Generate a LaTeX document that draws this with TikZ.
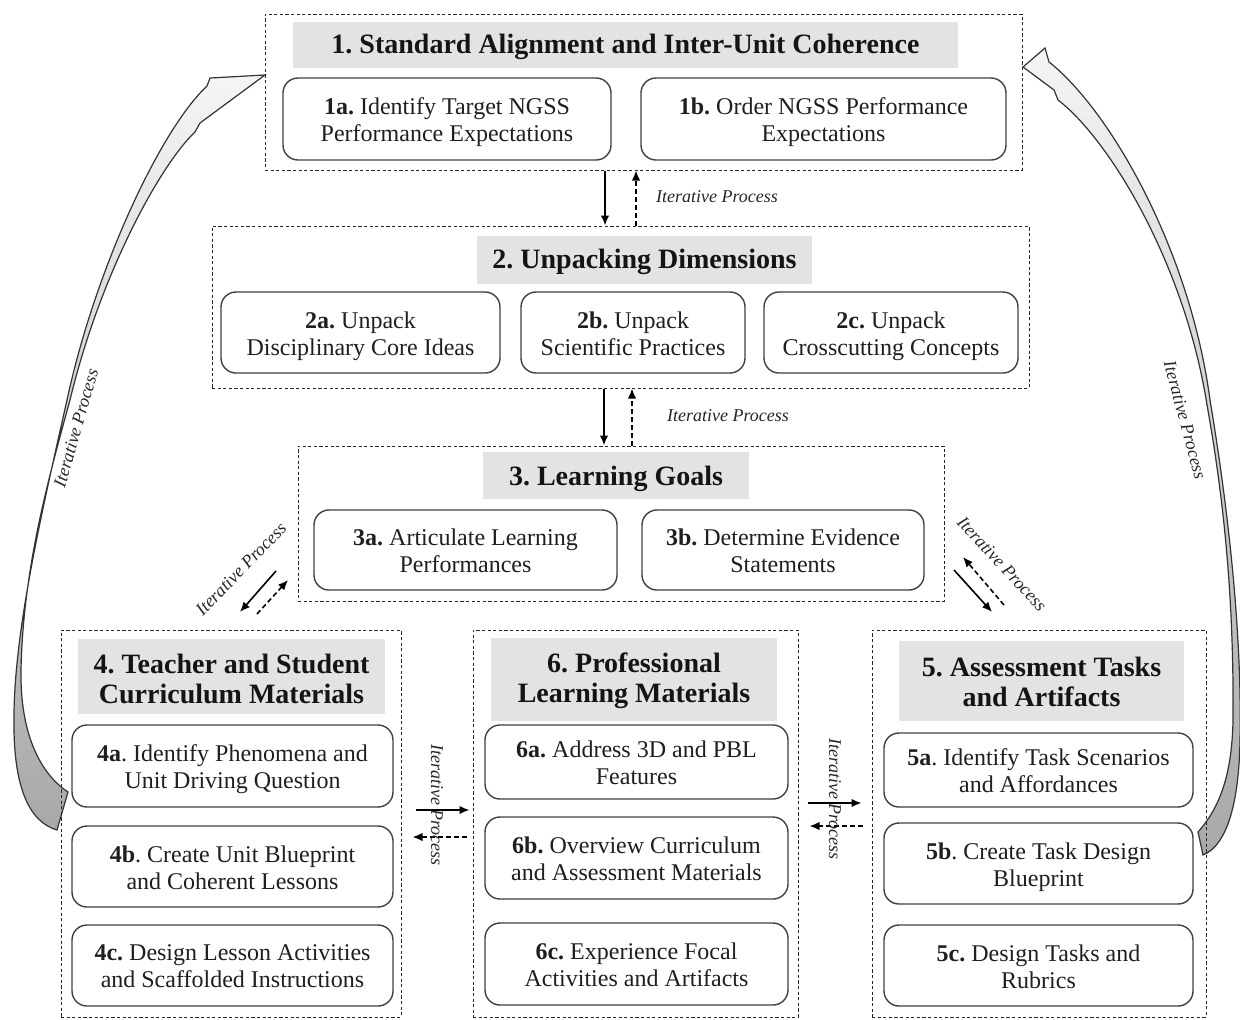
\documentclass[tikz,border=0pt]{standalone}
\usepackage{fontspec}
\setmainfont{Liberation Serif}
\usetikzlibrary{arrows.meta,calc}
\frenchspacing
% a rounded step box with its two-line caption
\newcommand\mkstep[6]{%
  \node[stepbox, minimum width=#4, minimum height=#5] (#1) at (#2,#3) {};
  \node[steptext] (#1-t) at ([yshift=-2.5pt]#1.center) {#6};}
% a grey heading bar; #6 lowers the heading text
\newcommand\mkhead[7]{%
  \node[headbar, minimum width=#4, minimum height=#5] (#1) at (#2,#3) {};
  \node[headtext] (#1-t) at ([yshift=-#6]#1.center) {#7};}
\begin{document}
\begin{tikzpicture}[x=0.5pt,y=-0.5pt,
  group/.style={draw=black!85, line width=0.5pt, dash pattern=on 1.6pt off 1.2pt, inner sep=0pt},
  headbar/.style={fill=black!11, inner sep=0pt},
  headtext/.style={inner sep=0pt, align=center, text=black!92,
    font=\fontsize{14}{15}\selectfont\bfseries,
    execute at begin node=\strut, execute at end node=\strut},
  stepbox/.style={draw=black!75, line width=0.7pt, rounded corners=7.5pt, fill=white, inner sep=0pt},
  steptext/.style={inner sep=0pt, align=center, text=black!88, font=\fontsize{12}{13.5}\selectfont,
    execute at begin node=\strut, execute at end node=\strut},
  iter/.style={font=\fontsize{9}{10}\selectfont\itshape, text=black!85, inner sep=0pt},
  fwd/.style={line width=0.8pt, -{Latex[length=5pt,width=4.2pt]}},
  back/.style={line width=0.8pt, dash pattern=on 2.5pt off 1.5pt, -{Latex[length=5pt,width=4.2pt]}},
  bigarrow/.style={draw=black!80, line width=0.6pt, top color=black!4, bottom color=black!34}
]
\path[use as bounding box] (0,0) rectangle (1240,1019);

% ---- large feedback arrows (drawn first, behind the boxes)
\draw[bigarrow] (265,75) -- (210,78) -- (207,86)
  .. controls (160,130) and (95,270) .. (67,400)
  .. controls (40,520) and (12,640) .. (14,730)
  .. controls (15,790) and (30,822) .. (57,830)
  -- (68,792)
  .. controls (38,772) and (20,730) .. (21,670)
  .. controls (23,570) and (48,480) .. (70,400)
  .. controls (100,275) and (160,165) .. (195,132)
  -- (200,123) -- cycle;
\draw[bigarrow] (1023,67) -- (1045,48) -- (1049,62)
  .. controls (1110,110) and (1190,250) .. (1210,400)
  .. controls (1230,520) and (1242,640) .. (1240,740)
  .. controls (1239,800) and (1228,845) .. (1203,855)
  -- (1198,832)
  .. controls (1222,805) and (1232,770) .. (1233,720)
  .. controls (1234,600) and (1224,500) .. (1207,405)
  .. controls (1185,265) and (1110,140) .. (1058,100)
  -- (1054,90) -- cycle;
\node[iter, rotate=74] (lblL) at (76,428) {Iterative Process};
\node[iter, rotate=-75] (lblR) at (1185,420) {Iterative Process};

% ---- 1. Standard alignment
\node[group, minimum width=378.5pt, minimum height=78pt] (g1) at (643.5,92) {};
\mkhead{t1}{625.5}{45}{332.5pt}{23pt}{1pt}{1. Standard Alignment and Inter-Unit Coherence}
\mkstep{s1a}{447}{119}{164pt}{41pt}{\textbf{1a.} Identify Target NGSS\\Performance Expectations}
\mkstep{s1b}{823.5}{119}{182.5pt}{41pt}{\textbf{1b.} Order NGSS Performance\\Expectations}

% ---- 2. Unpacking dimensions
\node[group, minimum width=408.5pt, minimum height=81pt] (g2) at (620.5,307) {};
\mkhead{t2}{644.5}{260}{167.5pt}{24pt}{1pt}{2. Unpacking Dimensions}
\mkstep{s2a}{360.5}{332.5}{139.5pt}{40.5pt}{\textbf{2a.} Unpack\\Disciplinary Core Ideas}
\mkstep{s2b}{633}{332.5}{112pt}{40.5pt}{\textbf{2b.} Unpack\\Scientific Practices}
\mkstep{s2c}{891}{332.5}{127pt}{40.5pt}{\textbf{2c.} Unpack\\Crosscutting Concepts}

% ---- 3. Learning goals
\node[group, minimum width=323pt, minimum height=77.5pt] (g3) at (621,523.5) {};
\mkhead{t3}{616}{475.5}{133pt}{23.5pt}{2pt}{3. Learning Goals}
\mkstep{s3a}{465.5}{550}{151.5pt}{40pt}{\textbf{3a.} Articulate Learning\\Performances}
\mkstep{s3b}{783}{550}{141pt}{40pt}{\textbf{3b.} Determine Evidence\\Statements}

% ---- 4. Curriculum materials
\node[group, minimum width=170pt, minimum height=193.5pt] (g4) at (231,823.5) {};
\mkhead{t4}{231.5}{676}{153.5pt}{37.5pt}{3.5pt}{4. Teacher and Student\\Curriculum Materials}
\mkstep{s4a}{232.5}{766}{160.5pt}{41pt}{\textbf{4a}. Identify Phenomena and\\Unit Driving Question}
\mkstep{s4b}{232.5}{866.5}{160.5pt}{40.5pt}{\textbf{4b}. Create Unit Blueprint\\and Coherent Lessons}
\mkstep{s4c}{232.5}{965.5}{160.5pt}{40.5pt}{\textbf{4c.} Design Lesson Activities\\and Scaffolded Instructions}

% ---- 6. Professional learning materials
\node[group, minimum width=162.5pt, minimum height=193.5pt] (g6) at (635.5,823.5) {};
\mkhead{t6}{634}{679.5}{143pt}{41.5pt}{1.2pt}{6. Professional\\Learning Materials}
\mkstep{s6a}{636.5}{762}{151.5pt}{37pt}{\textbf{6a.} Address 3D and PBL\\Features}
\mkstep{s6b}{636.5}{858}{151.5pt}{41pt}{\textbf{6b.} Overview Curriculum\\and Assessment Materials}
\mkstep{s6c}{636.5}{964}{151.5pt}{41pt}{\textbf{6c.} Experience Focal\\Activities and Artifacts}

% ---- 5. Assessment tasks
\node[group, minimum width=167pt, minimum height=193.5pt] (g5) at (1039,823.5) {};
\mkhead{t5}{1041.5}{681}{142.5pt}{40pt}{2.7pt}{5. Assessment Tasks\\and Artifacts}
\mkstep{s5a}{1038.5}{770}{154.5pt}{37pt}{\textbf{5a}. Identify Task Scenarios\\and Affordances}
\mkstep{s5b}{1038.5}{863.5}{154.5pt}{40.5pt}{\textbf{5b}. Create Task Design\\Blueprint}
\mkstep{s5c}{1038.5}{965.5}{154.5pt}{40.5pt}{\textbf{5c.} Design Tasks and\\Rubrics}

% ---- iterative links between the stages
\coordinate (v1) at (605,0);
\coordinate (v2) at (636,0);
\draw[fwd]  (v1 |- g1.south) -- (v1 |- g2.north);
\draw[back] (v2 |- g2.north) -- (v2 |- g1.south);
\node[iter] (l12) at (717,197) {Iterative Process};

\coordinate (v3) at (604,0);
\coordinate (v4) at (632,0);
\draw[fwd]  (v3 |- g2.south) -- (v3 |- g3.north);
\draw[back] (v4 |- g3.north) -- (v4 |- g2.south);
\node[iter] (l23) at (728,416) {Iterative Process};

% 3 <-> 4
\coordinate (a34s) at (276,571);
\coordinate (a34e) at (240,612);
\coordinate (b34s) at (257,614);
\coordinate (b34e) at (288,580);
\draw[fwd]  (a34s) -- (a34e);
\draw[back] (b34s) -- (b34e);
\node[iter, rotate=46] (l34) at (241,569) {Iterative Process};

% 3 <-> 5
\coordinate (a35s) at (954,570);
\coordinate (a35e) at (992,612);
\coordinate (b35s) at (1004,605);
\coordinate (b35e) at (963,557);
\draw[fwd]  (a35s) -- (a35e);
\draw[back] (b35s) -- (b35e);
\node[iter, rotate=-47] (l35) at (1002,564) {Iterative Process};

% 4 <-> 6
\coordinate (h1) at (0,810);
\coordinate (h2) at (0,837);
\draw[fwd, shorten <=7pt, shorten >=1.5pt]  (g4.east |- h1) -- (g6.west |- h1);
\draw[back, shorten <=3pt, shorten >=5.5pt] (g6.west |- h2) -- (g4.east |- h2);
\node[iter, rotate=-90] (l46) at (437,805) {Iterative Process};

% 6 <-> 5
\coordinate (h3) at (0,803);
\coordinate (h4) at (0,826);
\draw[fwd, shorten <=4.5pt, shorten >=5pt]  (g6.east |- h3) -- (g5.west |- h3);
\draw[back, shorten <=4.5pt, shorten >=5.5pt] (g5.west |- h4) -- (g6.east |- h4);
\node[iter, rotate=-90] (l65) at (835,799) {Iterative Process};
\end{tikzpicture}
\end{document}
